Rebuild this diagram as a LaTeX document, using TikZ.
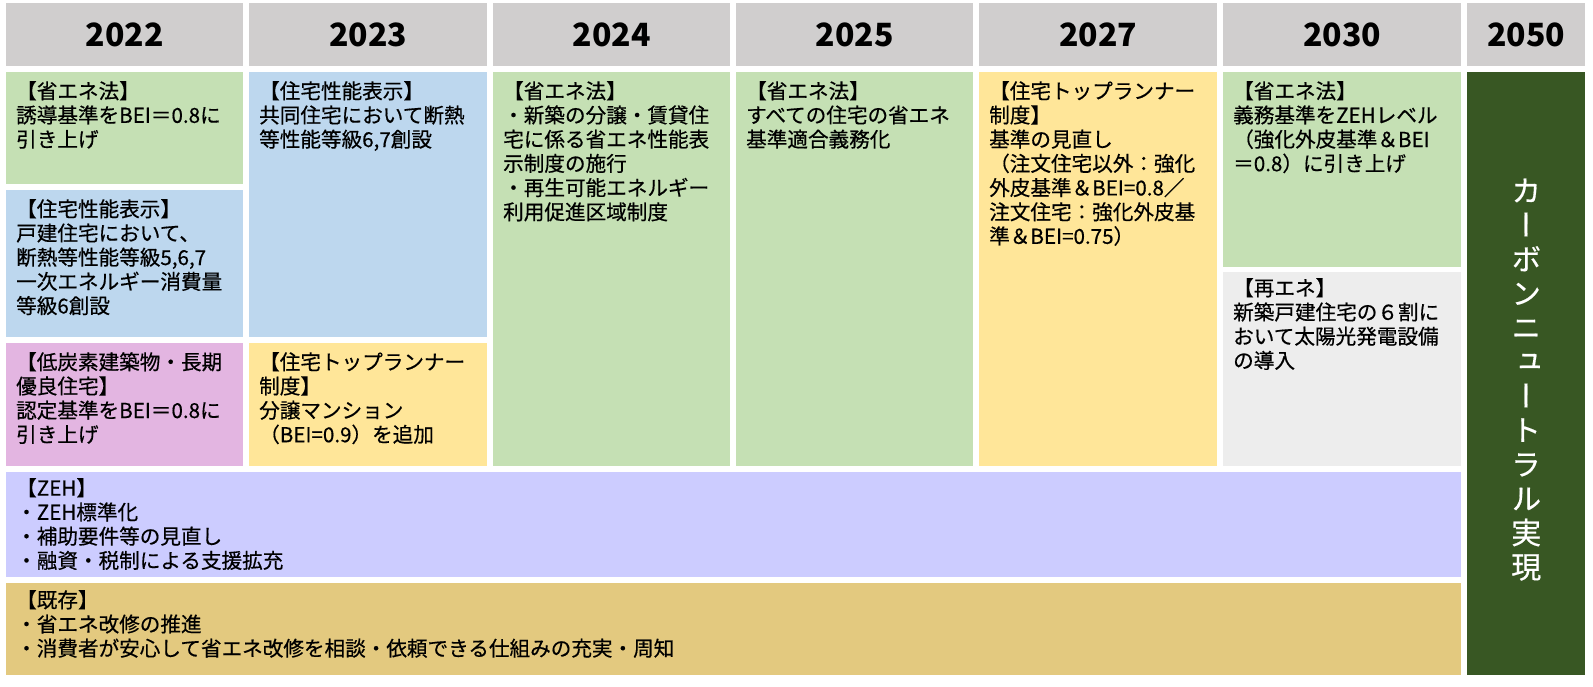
\documentclass[tikz,border=0pt]{standalone}
\usepackage{fontspec}
\setmainfont{Noto Sans CJK JP}
\newfontfamily\bodyfont[FakeBold=0.5]{Noto Sans CJK JP}
\newfontfamily\vertfont[RawFeature=+vert,FakeBold=0.5]{Noto Sans CJK JP}
\usetikzlibrary{positioning}
\definecolor{headgray}{HTML}{D0CECE}
\definecolor{lawgreen}{HTML}{C5E0B4}
\definecolor{dispblue}{HTML}{BDD7EE}
\definecolor{lowpink}{HTML}{E3B5E1}
\definecolor{toprunner}{HTML}{FFE699}
\definecolor{renewgray}{HTML}{EDEDED}
\definecolor{zehpurple}{HTML}{CCCCFF}
\definecolor{stockgold}{HTML}{E3C97F}
\definecolor{carbongreen}{HTML}{385723}

\begin{document}
\begin{tikzpicture}[x=1pt,y=-1pt] %% roadmap
	\tikzstyle{yearcell}=[rectangle,fill=headgray,anchor=north west,inner sep=0pt,minimum height=63pt,font=\fontsize{32}{40}\selectfont\bfseries];
	\tikzstyle{cellbox}=[rectangle,anchor=north west,inner sep=0pt];
	\tikzstyle{celltext}=[anchor=north west,inner sep=0pt,align=left,font=\bodyfont\fontsize{20.6}{24.2}\selectfont];
	\tikzstyle{vtext}=[align=center,inner sep=0pt,text=white,font=\vertfont\fontsize{30}{34.2}\selectfont];
	\useasboundingbox (0,0) rectangle (1593,687);
	% years
	\node[yearcell,minimum width=237pt] (h22) at (6,3) {2022};
	\node[yearcell,minimum width=238pt] (h23) at (249,3) {2023};
	\node[yearcell,minimum width=237pt] (h24) at (493,3) {2024};
	\node[yearcell,minimum width=237pt] (h25) at (736,3) {2025};
	\node[yearcell,minimum width=238pt] (h27) at (979,3) {2027};
	\node[yearcell,minimum width=238pt] (h30) at (1223,3) {2030};
	\node[yearcell,minimum width=118pt] (h50) at (1467,3) {2050};
	% boxes
	\node[cellbox,fill=lawgreen,minimum width=237pt,minimum height=112pt] (a22) at (6,72) {};
	\node[cellbox,fill=dispblue,minimum width=237pt,minimum height=147pt] (b22) at (6,190) {};
	\node[cellbox,fill=lowpink,minimum width=237pt,minimum height=123pt] (c22) at (6,343) {};
	\node[cellbox,fill=dispblue,minimum width=238pt,minimum height=265pt] (a23) at (249,72) {};
	\node[cellbox,fill=toprunner,minimum width=238pt,minimum height=123pt] (b23) at (249,343) {};
	\node[cellbox,fill=lawgreen,minimum width=237pt,minimum height=394pt] (a24) at (493,72) {};
	\node[cellbox,fill=lawgreen,minimum width=237pt,minimum height=394pt] (a25) at (736,72) {};
	\node[cellbox,fill=toprunner,minimum width=238pt,minimum height=394pt] (a27) at (979,72) {};
	\node[cellbox,fill=lawgreen,minimum width=238pt,minimum height=195pt] (a30) at (1223,72) {};
	\node[cellbox,fill=renewgray,minimum width=238pt,minimum height=194pt] (b30) at (1223,272) {};
	\node[cellbox,fill=zehpurple,minimum width=1455pt,minimum height=105pt] (zeh) at (6,472) {};
	\node[cellbox,fill=stockgold,minimum width=1455pt,minimum height=92pt] (kizon) at (6,583) {};
	\node[cellbox,fill=carbongreen,minimum width=118pt,minimum height=603pt] (cn) at (1467,72) {};
	% texts
	\node[celltext,below right=9pt and 10pt of a22.north west] (ta22) {【省エネ法】\\誘導基準をBEI＝0.8に\\引き上げ};
	\node[celltext,below right=9pt and 10pt of b22.north west] (tb22) {【住宅性能表示】\\戸建住宅において、\\断熱等性能等級5,6,7\\一次エネルギー消費量\\等級6創設};
	\node[celltext,below right=9pt and 10pt of c22.north west] (tc22) {【低炭素建築物・長期\\優良住宅】\\認定基準をBEI＝0.8に\\引き上げ};
	\node[celltext,below right=9pt and 10pt of a23.north west] (ta23) {【住宅性能表示】\\共同住宅において断熱\\等性能等級6,7創設};
	\node[celltext,below right=9pt and 10pt of b23.north west] (tb23) {【住宅トップランナー\\制度】\\分譲マンション\\（BEI=0.9）を追加};
	\node[celltext,below right=9pt and 10pt of a24.north west] (ta24) {【省エネ法】\\・新築の分譲・賃貸住\\宅に係る省エネ性能表\\示制度の施行\\・再生可能エネルギー\\利用促進区域制度};
	\node[celltext,below right=9pt and 10pt of a25.north west] (ta25) {【省エネ法】\\すべての住宅の省エネ\\基準適合義務化};
	\node[celltext,below right=9pt and 10pt of a27.north west] (ta27) {【住宅トップランナー\\制度】\\基準の見直し\\（注文住宅以外：強化\\外皮基準＆BEI=0.8／\\注文住宅：強化外皮基\\準＆BEI=0.75）};
	\node[celltext,below right=9pt and 10pt of a30.north west] (ta30) {【省エネ法】\\義務基準をZEHレベル\\（強化外皮基準＆BEI\\＝0.8）に引き上げ};
	\node[celltext,below right=6pt and 10pt of b30.north west] (tb30) {【再エネ】\\新築戸建住宅の６割に\\おいて太陽光発電設備\\の導入};
	\node[celltext,below right=6pt and 10pt of zeh.north west] (tzeh) {【ZEH】\\・ZEH標準化\\・補助要件等の見直し\\・融資・税制による支援拡充};
	\node[celltext,below right=7pt and 10pt of kizon.north west] (tkizon) {【既存】\\・省エネ改修の推進\\・消費者が安心して省エネ改修を相談・依頼できる仕組みの充実・周知};
	\node[vtext] (tcn) at (cn.center) [yshift=-6pt] {カ\\ー\\ボ\\ン\\ニ\\ュ\\ー\\ト\\ラ\\ル\\実\\現};
\end{tikzpicture}
\end{document}
